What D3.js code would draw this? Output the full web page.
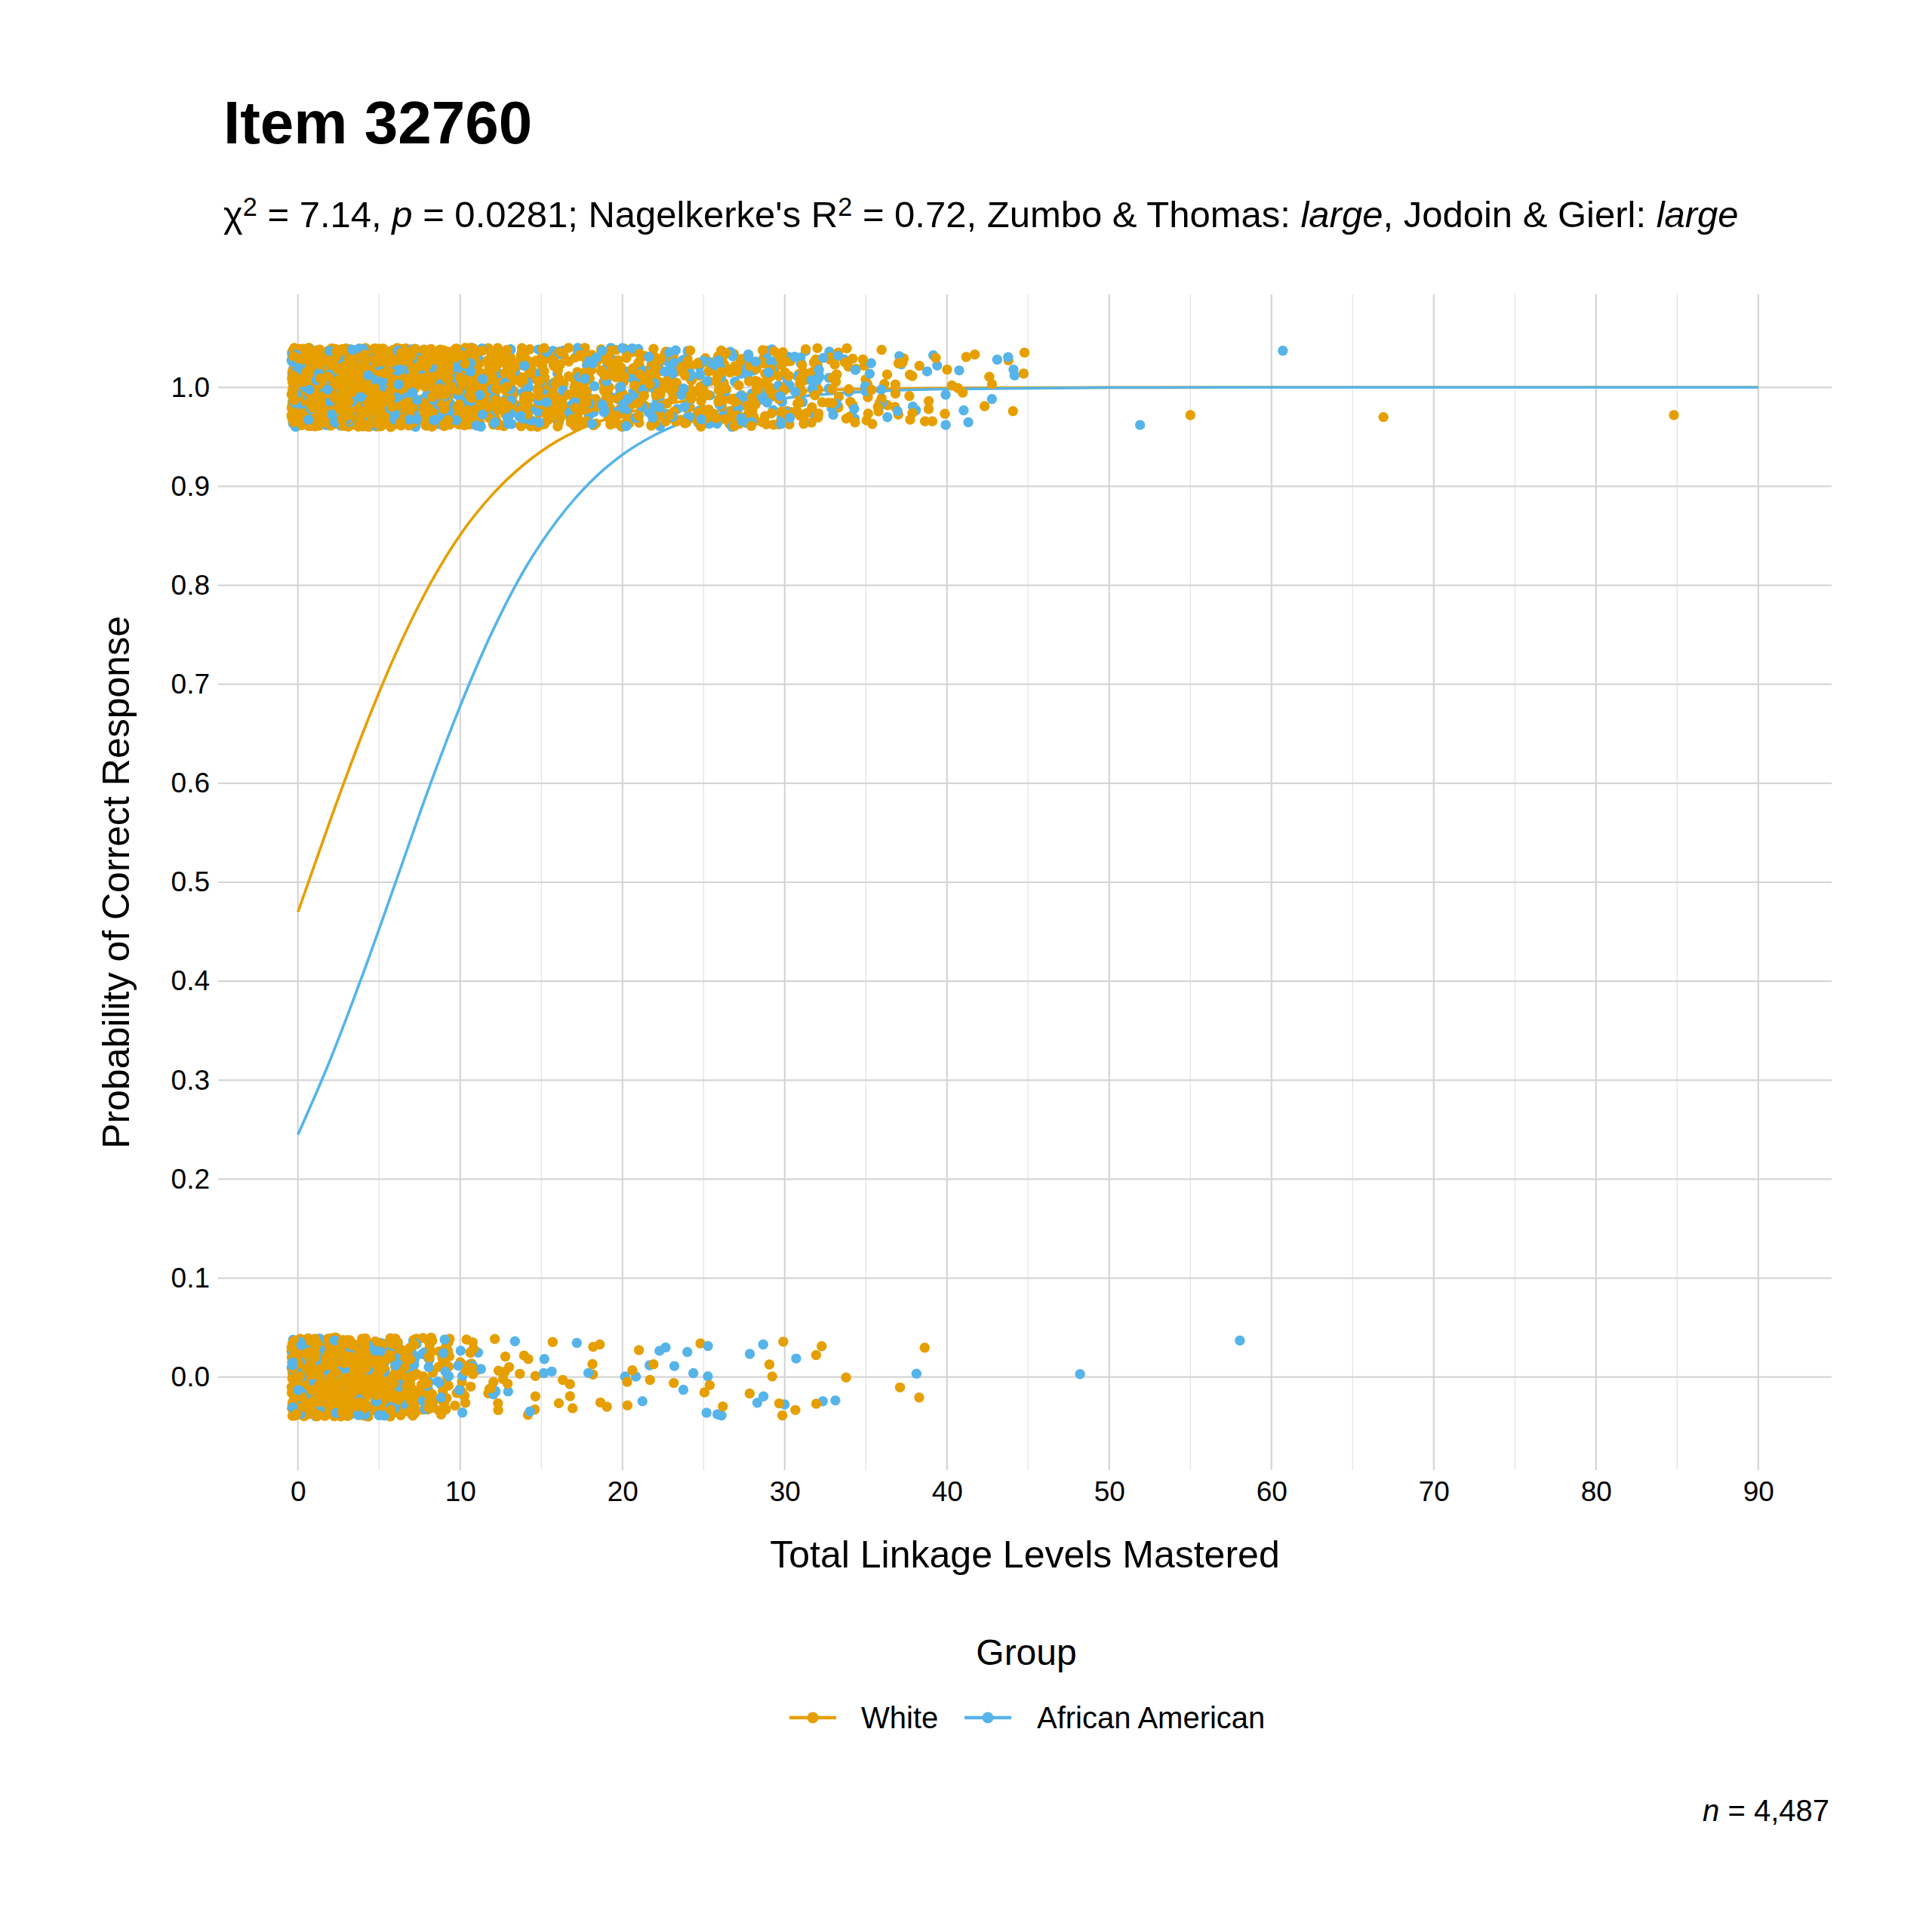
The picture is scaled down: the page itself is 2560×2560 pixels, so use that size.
<!DOCTYPE html>
<html>
<head>
<meta charset="utf-8">
<script src="https://cdn.jsdelivr.net/npm/d3@7"></script>
<style>
  body { margin: 0; background: #fff; }
</style>
</head>
<body>
<div id="chart"></div>
<script>
// groups and colours
var groups = ['White', 'African American'];
var groupColors = ['#E69F00', '#56B4E9'];

// students answering correctly (y = 1), count per total linkage level
var topLevels     = [0,1,2,3,4,5,6,7,8,9,10,11,12,13,14,15,16,17,18,19,20,21,22,23,24,25,26,27,28,29,30,31,32,33,34,35,36,37,38,39,40,41,42,43,44,45];
var whiteCorrect  = [178,188,188,188,178,168,118,97,93,89,70,66,61,51,47,43,40,37,35,35,31,31,29,29,29,26,26,26,26,24,22,20,16,14,12,9,8,7,6,5,3,3,2,2,2,2];
var aaCorrect     = [46,50,50,50,46,42,30,24,22,21,18,16,16,15,15,13,13,13,13,13,15,15,13,13,13,13,13,11,11,11,11,10,8,8,6,4,4,3,3,3,2,3,0,2,3,0];

// students answering incorrectly (y = 0), count per total linkage level
var bottomLevels    = [0,1,2,3,4,5,6,7,8,9,10,11,12,13,14,15,16,17,18,19,20,21,22,23,24,25,26,27,28,29,30,31,32,33,34,37,38,39];
var whiteIncorrect  = [150,150,145,135,125,100,65,48,32,22,12,9,8,5,4,3,3,3,3,3,2,2,2,1,0,3,1,0,1,2,3,1,3,0,1,1,1,1];
var aaIncorrect     = [40,40,38,36,33,27,17,14,10,8,5,4,3,2,1,2,1,1,1,0,1,2,2,2,3,3,2,0,2,2,1,1,1,1,0,0,1,0];

// isolated students far to the right, as plotted (level and response with jitter)
var outlierGroup = [1, 0, 1, 0, 0, 1, 1];
var outlierLevel = [51.9, 55.0, 60.7, 66.9, 84.8, 48.2, 58.05];
var outlierResp  = [0.962, 0.972, 1.037, 0.970, 0.972, 0.003, 0.037];

// fitted probability curves
var curveLevels = [0,2,4,6,8,10,12,14,16,18,20,22,25,30,35,40,50,60,70,80,90];
var whiteProb   = [0.470,0.563,0.651,0.730,0.797,0.851,0.892,0.923,0.946,0.962,0.973,0.981,0.989,0.9958,0.9983,0.9993,0.9999,1,1,1,1];
var aaProb      = [0.245,0.321,0.407,0.499,0.592,0.678,0.754,0.817,0.866,0.904,0.932,0.952,0.972,0.989,0.9956,0.9983,0.9998,1,1,1,1];

var yTicks = [0,0.1,0.2,0.3,0.4,0.5,0.6,0.7,0.8,0.9,1.0];
var xTicks = [0,10,20,30,40,50,60,70,80,90];
var xMinor = [5,15,25,35,45,55,65,75,85];

var width = 2560, height = 2560;
var font = '"Liberation Sans", Arial, Helvetica, sans-serif';

var svg = d3.select('#chart')
    .append('svg')
    .attr('width', width)
    .attr('height', height)
    .style('font-family', font);

svg.append('rect').attr('width', width).attr('height', height).attr('fill', '#fff');

var x = d3.scaleLinear().domain([-4.92, 94.52]).range([289, 2427]);
var y = d3.scaleLinear().domain([-0.094, 1.094]).range([1948, 390]);

// grid
var grid = svg.append('g');
grid.selectAll('.vminor').data(xMinor).enter().append('line')
    .attr('x1', function (d) { return x(d); }).attr('x2', function (d) { return x(d); })
    .attr('y1', y.range()[0]).attr('y2', y.range()[1])
    .attr('stroke', '#e4e4e4').attr('stroke-width', 1.3);
grid.selectAll('.vmajor').data(xTicks).enter().append('line')
    .attr('x1', function (d) { return x(d); }).attr('x2', function (d) { return x(d); })
    .attr('y1', y.range()[0]).attr('y2', y.range()[1])
    .attr('stroke', '#d5d5d5').attr('stroke-width', 2.2);
grid.selectAll('.hmajor').data(yTicks).enter().append('line')
    .attr('x1', x.range()[0]).attr('x2', x.range()[1])
    .attr('y1', function (d) { return y(d); }).attr('y2', function (d) { return y(d); })
    .attr('stroke', '#d5d5d5').attr('stroke-width', 2.2);

// axes (labels only)
var xAxis = svg.append('g')
    .attr('transform', 'translate(0,' + y.range()[0] + ')')
    .call(d3.axisBottom(x).tickValues(xTicks).tickSize(0).tickPadding(15));
var yAxis = svg.append('g')
    .attr('transform', 'translate(' + x.range()[0] + ',0)')
    .call(d3.axisLeft(y).tickValues(yTicks).tickFormat(d3.format('.1f')).tickSize(0).tickPadding(11));
[xAxis, yAxis].forEach(function (a) {
    a.select('.domain').remove();
    a.selectAll('text').attr('font-size', 37).attr('fill', '#000').style('font-family', font);
});

// curves
var line = d3.line()
    .x(function (d) { return x(d[0]); })
    .y(function (d) { return y(d[1]); })
    .curve(d3.curveMonotoneX);
[whiteProb, aaProb].forEach(function (probs, gi) {
    svg.append('path')
        .datum(curveLevels.map(function (lv, i) { return [lv, probs[i]]; }))
        .attr('d', line)
        .attr('fill', 'none')
        .attr('stroke', groupColors[gi])
        .attr('stroke-width', 3.6);
});

// jittered points (geom_jitter style: +-0.4 in x, +-0.04 in y), fixed seed
var lcg = d3.randomLcg(0.3276);
var jx = d3.randomUniform.source(lcg)(-0.4, 0.4);
var jy = d3.randomUniform.source(lcg)(-0.04, 0.04);
var points = [];
function addPoints(levels, counts, resp, gi) {
    levels.forEach(function (lv, i) {
        for (var k = 0; k < counts[i]; k++) {
            points.push({ level: lv, resp: resp, group: gi, dx: jx(), dy: jy() });
        }
    });
}
addPoints(topLevels, whiteCorrect, 1, 0);
addPoints(topLevels, aaCorrect, 1, 1);
addPoints(bottomLevels, whiteIncorrect, 0, 0);
addPoints(bottomLevels, aaIncorrect, 0, 1);
outlierGroup.forEach(function (g, i) {
    points.push({ level: outlierLevel[i], resp: outlierResp[i], group: g, dx: 0, dy: 0 });
});
d3.shuffler(lcg)(points);

svg.append('g').selectAll('circle')
    .data(points)
    .enter().append('circle')
    .attr('cx', function (d) { return x(d.level + d.dx); })
    .attr('cy', function (d) { return y(d.resp + d.dy); })
    .attr('r', 6.7)
    .attr('fill', function (d) { return groupColors[d.group]; });

// titles
svg.append('text').attr('x', 296).attr('y', 190)
    .attr('font-size', 80).attr('font-weight', 'bold').text('Item 32760');

var sub = svg.append('text').attr('x', 296).attr('y', 301).attr('font-size', 49);
sub.append('tspan').text('\u03C7');
sub.append('tspan').attr('dy', '-0.45em').attr('font-size', '0.7em').text('2');
sub.append('tspan').attr('dy', '0.315em').text(' = 7.14, ');
sub.append('tspan').attr('font-style', 'italic').text('p');
sub.append('tspan').text(" = 0.0281; Nagelkerke's R");
sub.append('tspan').attr('dy', '-0.45em').attr('font-size', '0.7em').text('2');
sub.append('tspan').attr('dy', '0.315em').text(' = 0.72, Zumbo & Thomas: ');
sub.append('tspan').attr('font-style', 'italic').text('large');
sub.append('tspan').text(', Jodoin & Gierl: ');
sub.append('tspan').attr('font-style', 'italic').text('large');

svg.append('text')
    .attr('x', (x.range()[0] + x.range()[1]) / 2).attr('y', 2077)
    .attr('text-anchor', 'middle').attr('font-size', 50)
    .text('Total Linkage Levels Mastered');

svg.append('text')
    .attr('transform', 'translate(171,' + (y.range()[0] + y.range()[1]) / 2 + ') rotate(-90)')
    .attr('text-anchor', 'middle').attr('font-size', 50)
    .text('Probability of Correct Response');

// legend
svg.append('text').attr('x', 1360).attr('y', 2206)
    .attr('text-anchor', 'middle').attr('font-size', 48).text('Group');
var legendX = [1077, 1309];
var legendLabelX = [1141, 1374];
var legend = svg.append('g').selectAll('g')
    .data(groups)
    .enter().append('g');
legend.append('line')
    .attr('x1', function (d, i) { return legendX[i] - 31; })
    .attr('x2', function (d, i) { return legendX[i] + 31; })
    .attr('y1', 2276).attr('y2', 2276)
    .attr('stroke', function (d, i) { return groupColors[i]; })
    .attr('stroke-width', 4.5);
legend.append('circle')
    .attr('cx', function (d, i) { return legendX[i]; })
    .attr('cy', 2276).attr('r', 7.5)
    .attr('fill', function (d, i) { return groupColors[i]; });
legend.append('text')
    .attr('x', function (d, i) { return legendLabelX[i]; })
    .attr('y', 2290).attr('font-size', 40)
    .text(function (d) { return d; });

// caption
var cap = svg.append('text').attr('x', 2424).attr('y', 2413)
    .attr('text-anchor', 'end').attr('font-size', 40);
cap.append('tspan').attr('font-style', 'italic').text('n');
cap.append('tspan').text(' = 4,487');
</script>
</body>
</html>
